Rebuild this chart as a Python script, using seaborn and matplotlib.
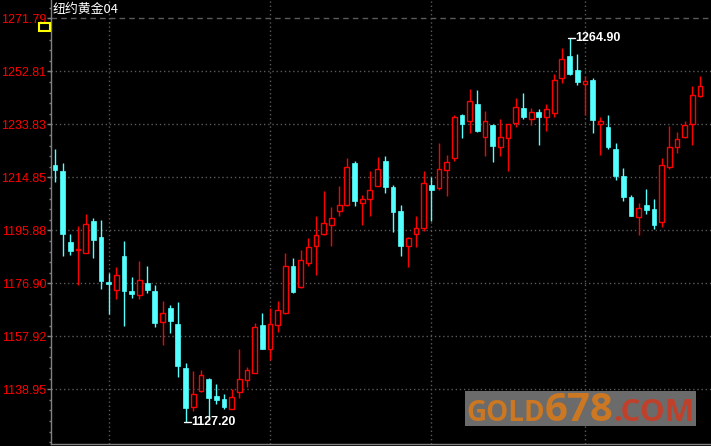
import numpy as np
import pandas as pd
import seaborn as sns
import matplotlib.pyplot as plt
from matplotlib.ticker import AutoMinorLocator
from matplotlib.patches import Rectangle

title = "纽约黄金04"

opens = [1219.4, 1217.2, 1191.8, 1188.9, 1187.9, 1199.3, 1193.6, 1177.5, 1174.6, 1186.8,
         1174.3, 1172.6, 1177.1, 1174.3, 1163.1, 1167.9, 1162.2, 1146.7, 1132.7, 1138.3,
         1142.5, 1136.5, 1135.3, 1132.0, 1138.1, 1142.2, 1144.9, 1161.8, 1153.4, 1161.8,
         1166.3, 1183.2, 1175.5, 1184.2, 1190.1, 1194.4, 1197.6, 1202.7, 1204.8, 1219.9,
         1205.6, 1207.1, 1211.9, 1220.8, 1211.5, 1202.9, 1190.1, 1194.4, 1196.7, 1212.2,
         1210.9, 1217.3, 1221.8, 1237.2, 1235.1, 1241.1, 1229.2, 1233.6, 1225.6, 1228.9,
         1234.3, 1239.7, 1235.9, 1238.3, 1236.4, 1237.8, 1250.3, 1258.3, 1253.3, 1248.2,
         1249.7, 1233.9, 1232.9, 1225.0, 1215.4, 1207.8, 1200.6, 1205.0, 1203.6, 1198.8,
         1218.5, 1225.7, 1229.2, 1233.9, 1244.1]
highs = [1225.1, 1220.1, 1194.7, 1197.5, 1201.8, 1200.4, 1199.7, 1180.7, 1182.9, 1192.2,
         1179.3, 1185.0, 1183.2, 1176.4, 1170.7, 1169.0, 1170.1, 1148.2, 1145.4, 1146.0,
         1143.1, 1141.0, 1137.4, 1139.0, 1153.2, 1147.0, 1162.5, 1166.3, 1168.1, 1170.7,
         1187.8, 1186.0, 1188.9, 1193.2, 1201.1, 1209.8, 1204.2, 1211.6, 1221.8, 1220.6,
         1208.6, 1217.2, 1222.2, 1222.6, 1212.2, 1205.0, 1193.5, 1201.1, 1217.2, 1214.8,
         1227.1, 1222.9, 1237.2, 1237.4, 1246.5, 1246.2, 1238.6, 1233.9, 1235.8, 1234.1,
         1243.3, 1245.1, 1239.8, 1239.4, 1241.1, 1251.9, 1261.1, 1264.9, 1259.0, 1251.2,
         1250.3, 1236.4, 1237.2, 1227.1, 1218.3, 1208.6, 1205.6, 1210.6, 1207.1, 1221.7,
         1233.3, 1231.1, 1235.1, 1247.6, 1251.2]
lows = [1213.3, 1186.8, 1187.2, 1176.4, 1187.6, 1185.8, 1175.0, 1166.0, 1171.2, 1161.5,
        1171.8, 1171.2, 1173.5, 1161.4, 1154.9, 1159.2, 1143.4, 1127.2, 1131.1, 1138.0,
        1129.1, 1133.6, 1132.0, 1131.8, 1135.7, 1139.7, 1144.6, 1153.2, 1149.3, 1159.4,
        1166.0, 1173.5, 1175.3, 1183.2, 1180.0, 1194.2, 1190.4, 1201.1, 1204.6, 1204.7,
        1197.6, 1200.9, 1211.6, 1209.1, 1195.1, 1186.6, 1182.6, 1189.8, 1195.5, 1199.3,
        1210.2, 1208.0, 1220.8, 1229.0, 1230.8, 1231.2, 1222.6, 1220.2, 1222.6, 1217.2,
        1233.0, 1235.8, 1233.4, 1226.5, 1231.5, 1236.6, 1248.6, 1251.5, 1247.9, 1237.2,
        1230.8, 1222.9, 1225.0, 1213.8, 1206.2, 1200.9, 1194.3, 1201.8, 1196.5, 1196.9,
        1217.9, 1223.7, 1229.0, 1226.5, 1243.5]
closes = [1217.6, 1194.7, 1188.6, 1189.0, 1198.2, 1192.5, 1177.6, 1176.5, 1180.0, 1174.0,
          1173.2, 1177.9, 1174.6, 1162.8, 1166.3, 1163.3, 1147.2, 1132.4, 1137.4, 1143.9,
          1135.7, 1135.1, 1132.6, 1136.1, 1142.5, 1145.7, 1161.3, 1153.2, 1162.4, 1167.4,
          1183.1, 1173.9, 1185.3, 1189.9, 1194.2, 1198.5, 1200.3, 1205.0, 1218.6, 1206.2,
          1207.1, 1210.4, 1217.8, 1211.2, 1202.6, 1190.1, 1193.1, 1196.7, 1212.8, 1210.4,
          1217.8, 1220.5, 1236.4, 1234.0, 1242.2, 1231.5, 1235.1, 1226.2, 1229.2, 1233.9,
          1240.1, 1236.3, 1238.3, 1236.6, 1239.4, 1249.6, 1257.1, 1251.9, 1248.9, 1249.5,
          1235.2, 1235.0, 1225.6, 1215.2, 1207.7, 1201.0, 1203.9, 1203.3, 1197.9, 1219.2,
          1225.7, 1228.5, 1233.6, 1244.2, 1247.7]

tick_vals = [1138.95, 1157.92, 1176.90, 1195.88, 1214.85, 1233.83, 1252.81, 1271.79]
tick_labels = ["1138.95", "1157.92", "1176.90", "1195.88", "1214.85", "1233.83", "1252.81", "1271.79"]
month_starts = [7, 28, 49, 69]

df = pd.DataFrame({"open": opens, "high": highs, "low": lows, "close": closes})
df["idx"] = np.arange(len(df))
df["up"] = df["close"] >= df["open"]
df["body_lo"] = df[["open", "close"]].min(axis=1)
df["body_h"] = (df["close"] - df["open"]).abs().clip(lower=0.05)

sns.set_theme(style="dark", rc={"axes.facecolor": "black", "figure.facecolor": "black",
                                "axes.edgecolor": "#808080", "axes.grid": False})
plt.rcParams['font.family'] = ['Liberation Sans', 'Noto Sans CJK SC', 'DejaVu Sans']

UP = '#ff0000'
DOWN = '#54ffff'
GRID = '#5a5a5a'

W, H = 711, 446
fig = plt.figure(figsize=(W / 100, H / 100), dpi=100, facecolor='black')
ax = fig.add_axes([51 / W, 2 / H, 660 / W, 444 / H])
ax.set_facecolor('black')

# grid
for v in tick_vals:
    ls = (0, (4, 3)) if v == max(tick_vals) else (0, (1, 2))
    ax.axhline(v, color=GRID, lw=1, ls=ls, zorder=1)
for m in month_starts:
    ax.axvline(m, color=GRID, lw=1, ls=(0, (1, 2)), zorder=1)

# candles
colors = np.where(df["up"], UP, DOWN)
ax.vlines(df["idx"], df["low"], df["high"], colors=colors, lw=1, zorder=3)
dn = df[~df["up"]]
up = df[df["up"]]
ax.bar(dn["idx"], dn["body_h"], bottom=dn["body_lo"], width=0.62,
       color=DOWN, edgecolor=DOWN, lw=0.5, zorder=4)
ax.bar(up["idx"], up["body_h"], bottom=up["body_lo"], width=0.62,
       facecolor='black', edgecolor=UP, lw=1.0, zorder=4)

# high / low marks
imax = df["high"].idxmax()
imin = df["low"].idxmin()
for i, v in [(imax, df["high"][imax]), (imin, df["low"][imin])]:
    ax.plot([i - 0.15, i + 0.7], [v, v], color='white', lw=1, zorder=5)
    ax.text(i + 0.75, v, f"{v:.2f}", color='white', fontsize=9, fontweight='bold',
            va='center', ha='left', zorder=6)

ax.set_xlim(-0.52, 85.42)
ax.set_ylim(1119.34, 1278.34)
ax.set_xticks([])
ax.set_yticks(tick_vals, tick_labels)
ax.yaxis.set_minor_locator(AutoMinorLocator(5))
ax.tick_params(axis='y', which='major', left=True, length=3, width=1, color='#808080',
               labelcolor='#ff0000', labelsize=9, pad=0.5)
ax.tick_params(axis='y', which='minor', left=True, length=1.5, width=1, color='#808080')
for s in ['top', 'right']:
    ax.spines[s].set_visible(False)
for s in ['left', 'bottom']:
    ax.spines[s].set_color('#808080')
    ax.spines[s].set_linewidth(1)

# title and little yellow box
fig.text(53 / W, 1 - 9 / H, title, color='white', fontsize=9.3, va='center', ha='left',
         family=['Noto Sans CJK SC', 'DejaVu Sans'])
fig.add_artist(Rectangle((38.5 / W, 1 - 31 / H), 11 / W, 8 / H, transform=fig.transFigure,
                         facecolor='black', edgecolor='#ffff00', lw=1.5, zorder=10))

# watermark, pieces placed one after another
fig.add_artist(Rectangle((465 / W, 1 - 426 / H), 231 / W, 35 / H, transform=fig.transFigure,
                         facecolor='#6b6b6b', edgecolor='none', zorder=10))
renderer = fig.canvas.get_renderer()
base = 1 - 421 / H
x = 466
for txt, col, size in [("GOLD", '#cc7722', 20), ("678", '#cc7722', 29), (".COM", '#c0412b', 22.5)]:
    t = fig.text(x / W, base, txt, color=col, fontsize=size, fontweight='bold',
                 family='Open Sans', va='baseline', ha='left', zorder=11)
    x = t.get_window_extent(renderer).x1

fig.savefig("out.png", dpi=100, facecolor='black')
